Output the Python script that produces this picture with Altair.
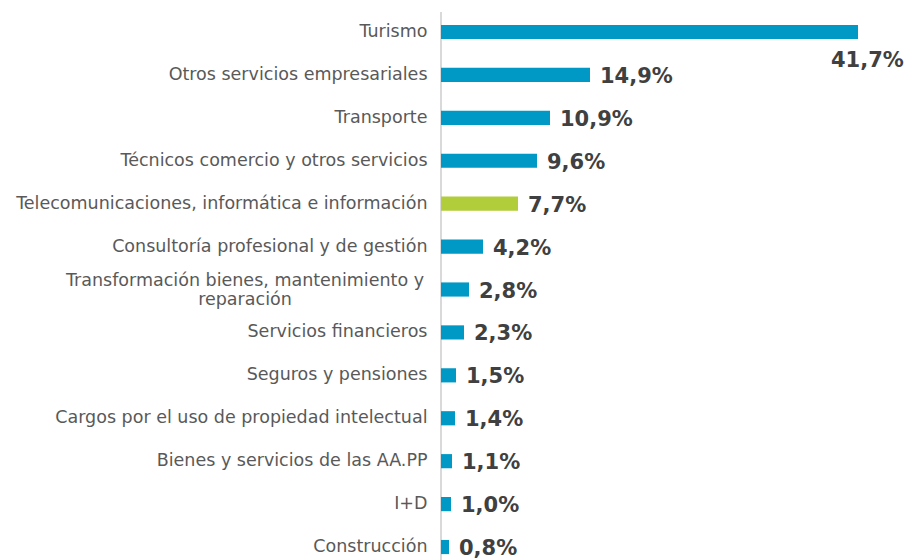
import altair as alt
import pandas as pd

categories = [
    "Turismo",
    "Otros servicios empresariales",
    "Transporte",
    "Técnicos comercio y otros servicios",
    "Telecomunicaciones, informática e información",
    "Consultoría profesional y de gestión",
    "Transformación bienes, mantenimiento y reparación",
    "Servicios financieros",
    "Seguros y pensiones",
    "Cargos por el uso de propiedad intelectual",
    "Bienes y servicios de las AA.PP",
    "I+D",
    "Construcción",
]
values = [41.7, 14.9, 10.9, 9.6, 7.7, 4.2, 2.8, 2.3, 1.5, 1.4, 1.1, 1.0, 0.8]
highlight = "Telecomunicaciones, informática e información"
wrapped = "Transformación bienes, mantenimiento y reparación"
wrapped_lines = "Transformación bienes, mantenimiento y|reparación"

df = pd.DataFrame({"cat": categories, "v": values})

yscale = alt.Scale(domain=categories, range=[16.9, 546.1], paddingInner=0.67, paddingOuter=0)
xscale = alt.Scale(domain=[0, 46])

base = alt.Chart(df).transform_calculate(
    label="replace(format(datum.v, '.1f'), '.', ',') + '%'"
)

Y = alt.Y("cat:N", scale=yscale, sort=categories, title=None)

bars = base.mark_bar().encode(
    x=alt.X("v:Q", scale=xscale, axis=None),
    y=alt.Y(
        "cat:N",
        scale=yscale,
        sort=categories,
        title=None,
        axis=alt.Axis(
            domain=False,
            ticks=False,
            labelFont="DejaVu Sans",
            labelFontSize=17.5,
            labelColor="#595959",
            labelLimit=500,
            labelPadding=14,
            labelExpr=f"datum.value == '{wrapped}' ? '' : datum.value",
        ),
    ),
    color=alt.condition(alt.datum.cat == highlight, alt.value("#B2CD3A"), alt.value("#0098C5")),
)

wrapped_label = base.transform_filter(alt.datum.cat == wrapped).transform_calculate(
    t=f"'{wrapped_lines}'"
).mark_text(
    font="DejaVu Sans", fontSize=17.5, color="#595959", align="center", baseline="middle",
    lineBreak="|", lineHeight=19, dy=-9,
).encode(x=alt.value(-196), y=Y, text="t:N")

axis_line = alt.Chart(df).mark_rule(color="#d9d9d9", strokeWidth=1.5).encode(
    x=alt.value(0), y=alt.value(4), y2=alt.value(560)
)

text_style = dict(font="DejaVu Sans", fontSize=21, fontWeight="bold", color="#404040",
                  align="left", baseline="middle")

labels = base.transform_filter(alt.datum.cat != "Turismo").mark_text(dx=10, dy=2, **text_style).encode(
    x=alt.X("v:Q", scale=xscale),
    y=Y,
    text="label:N",
)

label_top = base.transform_filter(alt.datum.cat == "Turismo").mark_text(dx=-27, dy=29, **text_style).encode(
    x=alt.X("v:Q", scale=xscale),
    y=Y,
    text="label:N",
)

chart = alt.layer(axis_line, bars, labels, label_top, wrapped_label).properties(
    width=460,
    height=552,
    autosize=alt.AutoSizeParams(type="none"),
    padding={"left": 433, "top": 0, "right": 10, "bottom": 0},
).configure_view(stroke=None)

chart.save("out.html", embed_options={"renderer": "svg", "actions": False})
